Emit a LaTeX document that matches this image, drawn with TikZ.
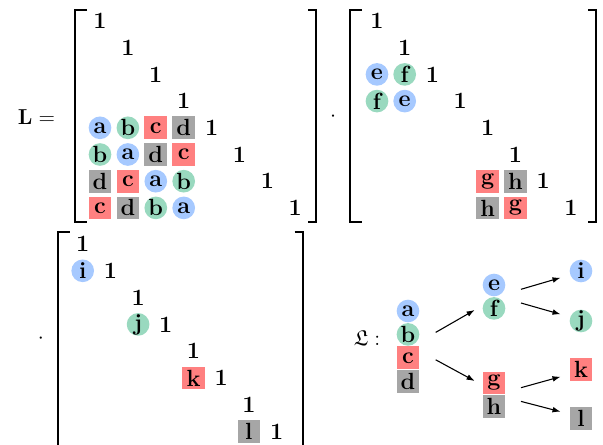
\documentclass[tikz,border=0pt]{standalone}
\usepackage{amsmath, amssymb}
\usepackage{tikz}
\usetikzlibrary{positioning,arrows.meta}
\definecolor{lblue}{RGB}{166,201,255}
\definecolor{lgreen}{RGB}{153,217,191}
\definecolor{lred}{RGB}{255,128,128}
\definecolor{lgray}{RGB}{166,166,166}
\newcommand{\entfont}{\fontsize{13}{15}\selectfont\bfseries}
\tikzset{
  one/.style={font=\entfont, inner sep=0pt},
  cell/.style={minimum size=12.6pt, inner sep=0pt, font=\entfont},
  bluedot/.style={cell, circle, fill=lblue},
  greendot/.style={cell, circle, fill=lgreen},
  redbox/.style={cell, fill=lred},
  graybox/.style={cell, fill=lgray},
  arr/.style={-{Latex[length=4.5pt,width=3.2pt]}, line width=0.6pt}
}
% corchetes: x izq, x der, y arriba, y abajo
\newcommand{\mbrk}[4]{%
  \draw[line width=1.1pt] (#1+12,#3)--(#1,#3)--(#1,#4)--(#1+12,#4);
  \draw[line width=1.1pt] (#2-8,#3)--(#2,#3)--(#2,#4)--(#2-8,#4);}

\begin{document}
\begin{tikzpicture}[x=0.5556pt,y=-0.5556pt]
  \useasboundingbox (0,0) rectangle (603,445);

  % primera matriz
  \node[font=\large] (Leq) at (36.5,117) {$\mathbf{L} =$};
  \mbrk{75}{316}{10}{222}
  \foreach \i in {1,...,8}
    \node[one] (A\i) at ({100+27.9*(\i-1)},{21+26.7*(\i-1)}) {1};
  \foreach \r/\c/\t/\s in {5/1/a/bluedot, 5/2/b/greendot, 5/3/c/redbox, 5/4/d/graybox,
      6/1/b/greendot, 6/2/a/bluedot, 6/3/d/graybox, 6/4/c/redbox,
      7/1/d/graybox, 7/2/c/redbox, 7/3/a/bluedot, 7/4/b/greendot,
      8/1/c/redbox, 8/2/d/graybox, 8/3/b/greendot, 8/4/a/bluedot}
    \node[\s] (A\r\c) at ({100+27.9*(\c-1)},{21+26.7*(\r-1)}) {\t};

  % segunda matriz
  \node[font=\large] (dotB) at (333,117) {$\cdot$};
  \mbrk{350}{596}{10}{222}
  \foreach \i in {1,...,8}
    \node[one] (B\i) at ({377+27.7*(\i-1)},{21+26.7*(\i-1)}) {1};
  \foreach \r/\c/\t/\s in {3/1/e/bluedot, 3/2/f/greendot, 4/1/f/greendot, 4/2/e/bluedot,
      7/5/g/redbox, 7/6/h/graybox, 8/5/h/graybox, 8/6/g/redbox}
    \node[\s] (B\r\c) at ({377+27.7*(\c-1)},{21+26.7*(\r-1)}) {\t};

  % tercera matriz
  \node[font=\large] (dotC) at (41,339) {$\cdot$};
  \mbrk{57.7}{302.7}{232.3}{470}
  \foreach \i in {1,...,8}
    \node[one] (C\i) at ({82.7+27.7*(\i-1)},{244+26.8*(\i-1)}) {1};
  \foreach \r/\c/\t/\s in {2/1/i/bluedot, 4/3/j/greendot, 6/5/k/redbox, 8/7/l/graybox}
    \node[\s] (C\r\c) at ({82.7+27.7*(\c-1)},{244+26.8*(\r-1)}) {\t};

  % arbol
  \node[font=\large] (frakL) at (367,338) {$\mathfrak{L}:$};
  \node[bluedot] (ta) at (408,311) {a};
  \node[greendot, below=0pt of ta] (tb) {b};
  \node[redbox, below=0pt of tb] (tc) {c};
  \node[graybox, below=0pt of tc] (td) {d};
  \node[bluedot] (te) at (494,285) {e};
  \node[greendot, below=0pt of te] (tf) {f};
  \node[redbox] (tg) at (494,383) {g};
  \node[graybox, below=0pt of tg] (th) {h};
  \node[bluedot] (ti) at (581,271) {i};
  \node[greendot] (tj) at (581,321) {j};
  \node[redbox] (tk) at (581,369.5) {k};
  \node[graybox] (tl) at (581,418.5) {l};

  \draw[arr] ([shift={(16,-2)}]tb.east) -- ([shift={(-7.6,1.6)}]tf.west);
  \draw[arr] ([shift={(16,2)}]tc.east) -- ([shift={(-7.6,-2)}]tg.west);
  \draw[arr] ([shift={(15.3,4.3)}]te.east) -- ([shift={(-8.7,6.7)}]ti.west);
  \draw[arr] ([shift={(15.3,-5.4)}]tf.east) -- ([shift={(-8.7,-6.7)}]tj.west);
  \draw[arr] ([shift={(15.3,4.7)}]tg.east) -- ([shift={(-8.7,7.2)}]tk.west);
  \draw[arr] ([shift={(15.3,-5)}]th.east) -- ([shift={(-8.7,-6.8)}]tl.west);
\end{tikzpicture}
\end{document}
